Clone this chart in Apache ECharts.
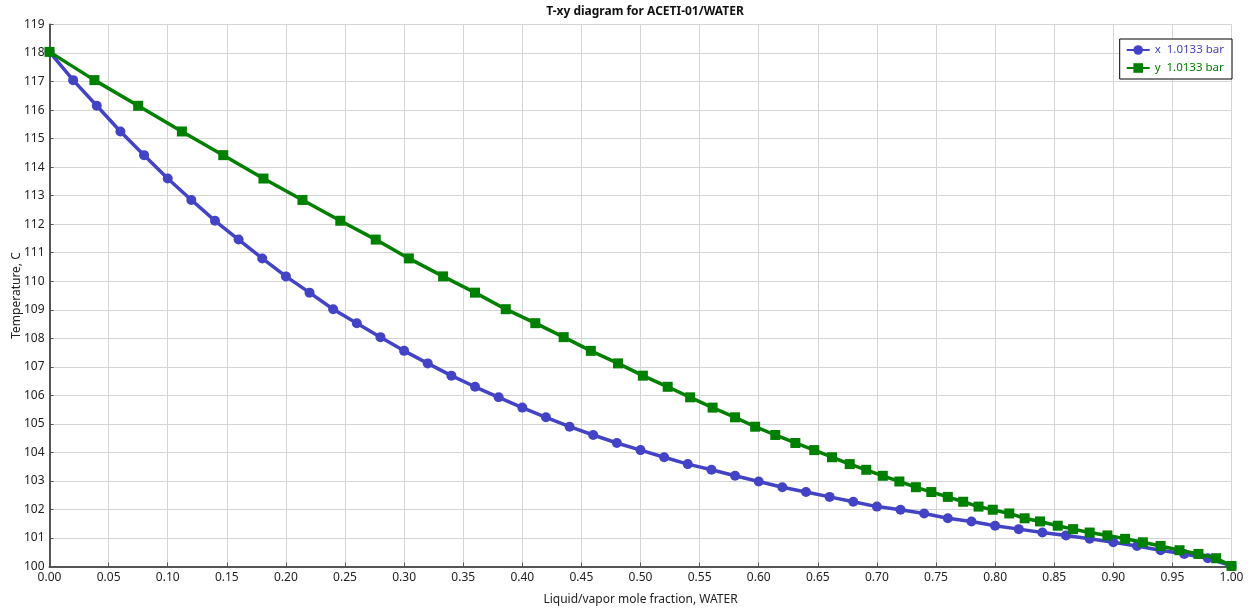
<!DOCTYPE html>
<html>
<head>
<meta charset="utf-8">
<title>T-xy diagram for ACETI-01/WATER</title>
<script src="https://cdn.jsdelivr.net/npm/echarts@6/dist/echarts.min.js"></script>
<style>
  html, body { margin: 0; padding: 0; background: #fff; }
  #chart { width: 1250px; height: 609px; }
</style>
</head>
<body>
<div id="chart"></div>
<script>
// Liquid mole fraction of WATER (x) at each equilibrium temperature
const liquidX = [
  0.00, 0.02, 0.04, 0.06, 0.08, 0.10, 0.12, 0.14, 0.16, 0.18,
  0.20, 0.22, 0.24, 0.26, 0.28, 0.30, 0.32, 0.34, 0.36, 0.38,
  0.40, 0.42, 0.44, 0.46, 0.48, 0.50, 0.52, 0.54, 0.56, 0.58,
  0.60, 0.62, 0.64, 0.66, 0.68, 0.70, 0.72, 0.74, 0.76, 0.78,
  0.80, 0.82, 0.84, 0.86, 0.88, 0.90, 0.92, 0.94, 0.96, 0.98,
  1.00
];

// Vapor mole fraction of WATER (y) in equilibrium with each liquid point
const vaporY = [
  0.000, 0.038, 0.075, 0.112, 0.147, 0.181, 0.214, 0.246, 0.276, 0.304,
  0.333, 0.360, 0.386, 0.411, 0.435, 0.458, 0.481, 0.502, 0.523, 0.542,
  0.561, 0.580, 0.597, 0.614, 0.631, 0.647, 0.662, 0.677, 0.691, 0.705,
  0.719, 0.733, 0.746, 0.760, 0.773, 0.786, 0.798, 0.812, 0.825, 0.838,
  0.853, 0.866, 0.880, 0.895, 0.910, 0.925, 0.940, 0.956, 0.972, 0.987,
  1.000
];

// Bubble / dew temperature, C, at 1.0133 bar
const temperatureC = [
  118.04, 117.05, 116.15, 115.25, 114.42, 113.60, 112.85, 112.12, 111.46, 110.80,
  110.17, 109.60, 109.02, 108.53, 108.04, 107.56, 107.12, 106.69, 106.30, 105.93,
  105.57, 105.23, 104.90, 104.61, 104.33, 104.08, 103.83, 103.59, 103.39, 103.18,
  102.98, 102.78, 102.61, 102.44, 102.27, 102.10, 101.99, 101.86, 101.69, 101.58,
  101.43, 101.31, 101.19, 101.09, 100.97, 100.85, 100.72, 100.57, 100.44, 100.29,
  100.02
];

const seriesNames = ['x  1.0133 bar', 'y  1.0133 bar'];
const seriesColors = ['#4343c6', '#008000'];

const FONT = '"Noto Sans", "Open Sans", sans-serif';

const chart = echarts.init(document.getElementById('chart'), null, { renderer: 'canvas' });

const pair = (xs) => xs.map((v, i) => [v, temperatureC[i]]);

chart.setOption({
  backgroundColor: '#ffffff',
  animation: false,
  textStyle: { fontFamily: FONT },
  title: {
    text: 'T-xy diagram for ACETI-01/WATER',
    left: 640,
    textAlign: 'center',
    top: 1,
    textStyle: { fontFamily: FONT, fontSize: 12, fontWeight: 'bold', color: '#111' }
  },
  legend: {
    orient: 'vertical',
    right: 18,
    top: 39,
    padding: [5, 8, 5, 6],
    itemGap: 6,
    itemWidth: 23,
    itemHeight: 12,
    borderColor: '#000',
    borderWidth: 1,
    backgroundColor: '#fff',
    data: [
      { name: seriesNames[0], textStyle: { color: seriesColors[0] } },
      { name: seriesNames[1], textStyle: { color: seriesColors[1] } }
    ],
    textStyle: { fontFamily: FONT, fontSize: 11.5 }
  },
  grid: {
    left: 49.5, right: 18.5, top: 24.5, bottom: 42.5,
    containLabel: false,
    outerBoundsMode: 'none'
  },
  xAxis: {
    type: 'value',
    min: 0, max: 1, interval: 0.05,
    name: 'Liquid/vapor mole fraction, WATER',
    nameLocation: 'middle',
    nameGap: 27,
    nameMoveOverlap: false,
    nameTextStyle: { fontFamily: FONT, fontSize: 12, color: '#222' },
    axisLine: { show: true, onZero: false, lineStyle: { color: '#555', width: 2 } },
    axisTick: { show: true, inside: true, length: 4, lineStyle: { color: '#555', width: 1 } },
    axisLabel: {
      margin: 5,
      fontFamily: FONT, fontSize: 12, color: '#222',
      formatter: (v) => v.toFixed(2)
    },
    splitLine: { show: true, lineStyle: { color: '#d4d4d4', width: 1 } }
  },
  yAxis: {
    type: 'value',
    min: 100, max: 119, interval: 1,
    name: 'Temperature, C',
    nameLocation: 'middle',
    nameGap: 27,
    nameMoveOverlap: false,
    nameTextStyle: { fontFamily: FONT, fontSize: 12, color: '#222' },
    axisLine: { show: true, onZero: false, lineStyle: { color: '#555', width: 2 } },
    axisTick: { show: true, inside: true, length: 4, lineStyle: { color: '#555', width: 1 } },
    axisLabel: { margin: 5, fontFamily: FONT, fontSize: 12, color: '#222' },
    splitLine: { show: true, lineStyle: { color: '#d4d4d4', width: 1 } }
  },
  series: [
    {
      name: seriesNames[0],
      type: 'line',
      data: pair(liquidX),
      symbol: 'circle',
      symbolSize: 10,
      showAllSymbol: true,
      lineStyle: { color: seriesColors[0], width: 3.5 },
      itemStyle: { color: seriesColors[0] },
      z: 2
    },
    {
      name: seriesNames[1],
      type: 'line',
      data: pair(vaporY),
      symbol: 'rect',
      symbolSize: 10,
      showAllSymbol: true,
      lineStyle: { color: seriesColors[1], width: 3.5 },
      itemStyle: { color: seriesColors[1] },
      z: 3
    }
  ]
});
</script>
</body>
</html>
